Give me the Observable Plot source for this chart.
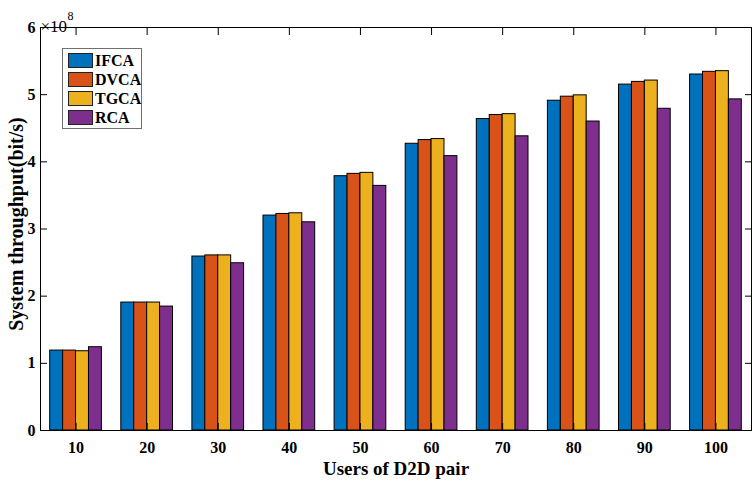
<!DOCTYPE html>
<html>
<head>
<meta charset="utf-8">
<script src="https://cdn.jsdelivr.net/npm/d3@7"></script>
<script src="https://cdn.jsdelivr.net/npm/@observablehq/plot@0.6"></script>
<style>
  body { margin: 0; background: #fff; }
  #wrap { position: relative; width: 752px; height: 484px; overflow: hidden;
          font-family: "Liberation Serif", "Times New Roman", serif; font-weight: bold; }
  #legend { position: absolute; left: 62px; top: 48px; width: 80px; height: 81px;
            border: 1px solid #6f6f6f; background: #fff; box-sizing: border-box; }
  .row { position: absolute; left: 5px; height: 15px; display: flex; align-items: center; }
  .sw { width: 23px; height: 13px; border: 1px solid #222; box-sizing: content-box; }
  .lab { margin-left: 2px; font-size: 16px; line-height: 15px; color: #000; }
</style>
</head>
<body>
<div id="wrap"><div id="chart"></div><div id="legend"></div></div>
<script>
// ---- data ----
const groups = [10, 20, 30, 40, 50, 60, 70, 80, 90, 100];
const series = ["IFCA", "DVCA", "TGCA", "RCA"];
const IFCA = [1.19, 1.905, 2.59, 3.20, 3.786, 4.269, 4.637, 4.91, 5.15, 5.30];
const DVCA = [1.19, 1.905, 2.607, 3.224, 3.821, 4.324, 4.697, 4.97, 5.19, 5.34];
const TGCA = [1.18, 1.905, 2.607, 3.234, 3.836, 4.339, 4.71, 4.99, 5.21, 5.35];
const RCA  = [1.24, 1.845, 2.49, 3.10, 3.642, 4.085, 4.38, 4.60, 4.79, 4.93];
const colors = ["#0072BD", "#D95319", "#EDB120", "#7E2F8E"];
const yTicks = [0, 1, 2, 3, 4, 5, 6];

const valuesBySeries = {IFCA, DVCA, TGCA, RCA};
// grouped-bar layout in data units (MATLAB style: group width ~0.727 of spacing)
const spacing = 10;
const groupWidth = spacing * Math.min(0.8, series.length / (series.length + 1.5));
const barW = groupWidth / series.length;
const rows = [];
series.forEach((s, i) => {
  valuesBySeries[s].forEach((v, j) => {
    const c = groups[j] - groupWidth / 2 + barW * (i + 0.5);
    rows.push({series: s, group: groups[j], value: v, x1: c - barW / 2, x2: c + barW / 2});
  });
});

const chart = Plot.plot({
  width: 752,
  height: 484,
  marginLeft: 40,
  marginRight: 1,
  marginTop: 27,
  marginBottom: 54,
  style: {fontFamily: "'Liberation Serif', 'Times New Roman', serif", fontWeight: "bold", fontSize: "16px", color: "#000", background: "#fff"},
  x: {domain: [5, 105]},
  y: {domain: [0, 6]},
  color: {domain: series, range: colors},
  marks: [
    Plot.rectY(rows, {x1: "x1", x2: "x2", y1: 0, y2: "value", fill: "series", stroke: "#000", strokeWidth: 1}),
    Plot.frame({stroke: "#000", strokeWidth: 1}),
    // tick labels
    Plot.axisY(yTicks, {anchor: "left", tickSize: 0, tickPadding: 5, tickFormat: d3.format("d"), label: null, fontSize: 16}),
    Plot.axisX(groups, {anchor: "bottom", tickSize: 0, tickPadding: 11, tickFormat: d3.format("d"), label: null, fontSize: 16}),
    // inward ticks on all four sides
    Plot.axisY(yTicks, {anchor: "left", tickSize: -7, fill: "none", label: null}),
    Plot.axisY(yTicks, {anchor: "right", tickSize: -7, fill: "none", label: null}),
    Plot.axisX(groups, {anchor: "bottom", tickSize: -7, fill: "none", label: null}),
    Plot.axisX(groups, {anchor: "top", tickSize: -7, fill: "none", label: null}),
    // axis titles
    Plot.text(["Users of D2D pair"], {frameAnchor: "bottom", dy: 44, fontSize: 19, fontWeight: "bold"}),
    Plot.text(["System throughput(bit/s)"], {frameAnchor: "left", textAnchor: "middle", rotate: -90, dx: -24, dy: -5, fontSize: 20, fontWeight: "bold"}),
    Plot.text(["×10"], {frameAnchor: "top-left", textAnchor: "start", dx: 0, dy: -8, fontSize: 17, fontWeight: "normal"}),
    Plot.text(["8"], {frameAnchor: "top-left", textAnchor: "start", dx: 27, dy: -16, fontSize: 12, fontWeight: "normal"})
  ]
});
document.getElementById("chart").appendChild(chart);

// legend
const legend = document.getElementById("legend");
series.forEach((s, i) => {
  const row = document.createElement("div");
  row.className = "row";
  row.style.top = (4 + i * 19) + "px";
  const sw = document.createElement("div");
  sw.className = "sw";
  sw.style.background = colors[i];
  const lab = document.createElement("span");
  lab.className = "lab";
  lab.textContent = s;
  row.appendChild(sw);
  row.appendChild(lab);
  legend.appendChild(row);
});
</script>
</body>
</html>
